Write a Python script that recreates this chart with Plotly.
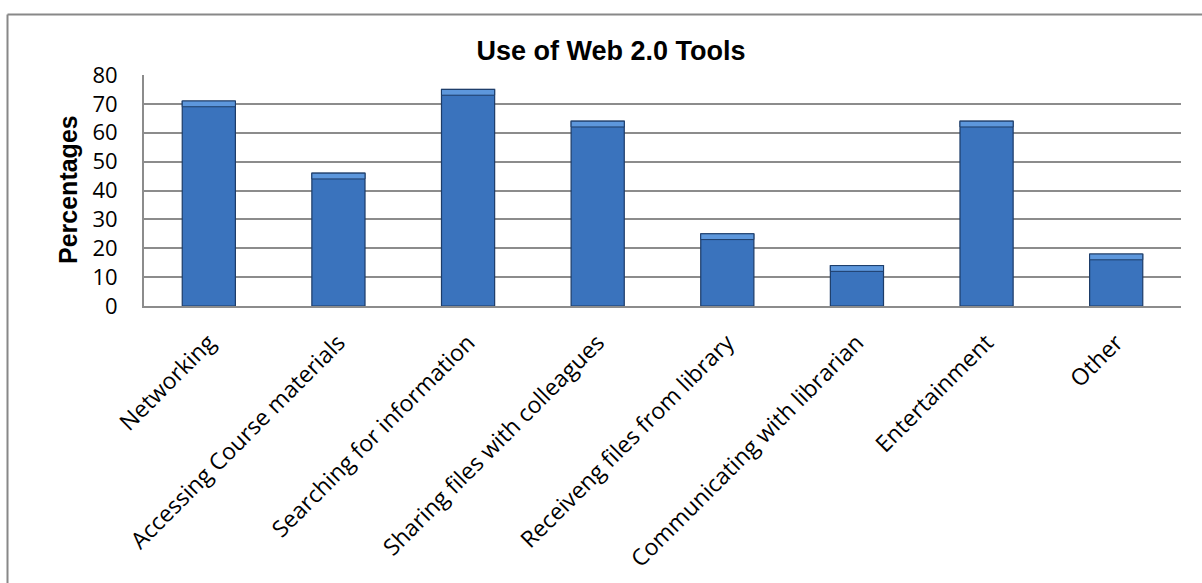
import plotly.graph_objects as go

categories = [
    "Networking",
    "Accessing Course materials",
    "Searching for information",
    "Sharing files with colleagues",
    "Receiveng files from library",
    "Communicating with librarian",
    "Entertainment",
    "Other",
]
percentages = [71, 46, 75, 64, 25, 14, 64, 18]
y_ticks = [0, 10, 20, 30, 40, 50, 60, 70, 80]

chart_title = "Use of Web 2.0 Tools"
y_title = "Percentages"

W, H = 1202, 583
ML, MR, MT, MB = 144, 21, 75, 277
PW, PH = W - ML - MR, H - MT - MB

def px_to_paper_x(px):
    return (px - ML) / PW

def px_to_paper_y(py):
    return (H - MB - py) / PH

bevel = 2.0  # highlight band depth, in axis units

fig = go.Figure()
fig.add_trace(go.Bar(
    x=categories,
    y=percentages,
    marker=dict(color="#3a73bd", line=dict(color="#1d3c68", width=1.2)),
    width=0.41,
    hoverinfo="x+y",
))
# light bevel at the top of each bar
fig.add_trace(go.Bar(
    x=categories,
    y=[bevel] * len(percentages),
    base=[v - bevel for v in percentages],
    marker=dict(color="#5d97dc", line=dict(color="#1d3c68", width=1)),
    width=0.41,
    hoverinfo="skip",
))

grid_color = "#8c8c8c"

fig.update_layout(
    width=W, height=H,
    barmode="overlay",
    margin=dict(l=ML, r=MR, t=MT, b=MB, autoexpand=False),
    paper_bgcolor="white",
    plot_bgcolor="white",
    showlegend=False,
    title=dict(
        text="<b>" + chart_title + "</b>",
        x=611 / W, xref="container", xanchor="center",
        y=1 - 51 / H, yref="container", yanchor="middle",
        font=dict(family="Liberation Sans, Arial", size=27, color="black"),
    ),
    xaxis=dict(
        type="category",
        tickangle=-45,
        tickfont=dict(family="Open Sans", size=23, color="black"),
        showgrid=False,
        showline=True, linecolor=grid_color, linewidth=2,
        ticks="", ticklabelstandoff=12,
        range=[-0.5, 7.5],
        automargin=False,
    ),
    yaxis=dict(
        range=[0, 80],
        tickvals=y_ticks,
        ticktext=[str(v) for v in y_ticks],
        tickfont=dict(family="Open Sans", size=22, color="black"),
        showgrid=True, gridcolor=grid_color, gridwidth=2,
        showline=True, linecolor=grid_color, linewidth=2,
        zeroline=False,
        ticks="", ticklabelstandoff=20,
        automargin=False,
    ),
    annotations=[
        dict(
            text="<b>" + y_title + "</b>",
            x=px_to_paper_x(68), y=px_to_paper_y(190), xref="paper", yref="paper",
            textangle=-90, showarrow=False,
            xanchor="center", yanchor="middle",
            font=dict(family="Liberation Sans, Arial", size=25, color="black"),
        )
    ],
    shapes=[
        dict(type="line", xref="paper", yref="paper",
             x0=px_to_paper_x(7.5), x1=px_to_paper_x(7.5),
             y0=px_to_paper_y(14.5), y1=px_to_paper_y(600),
             line=dict(color="#888888", width=2)),
        dict(type="line", xref="paper", yref="paper",
             x0=px_to_paper_x(7.5), x1=px_to_paper_x(1220),
             y0=px_to_paper_y(14.5), y1=px_to_paper_y(14.5),
             line=dict(color="#888888", width=2)),
    ],
)

fig.write_html("out.html")
